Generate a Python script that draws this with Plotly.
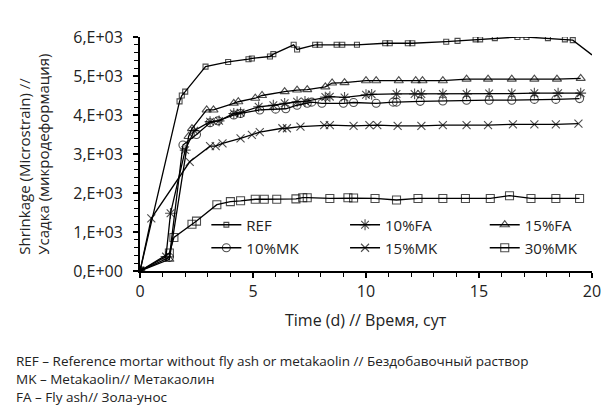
import plotly.graph_objects as go

# ---- data ----
ref_x = [0, 1.75, 1.85, 2.0, 2.9, 3.9, 4.8, 4.95, 5.75, 5.9, 6.8, 6.95, 7.75, 7.95, 8.7, 8.95, 9.6,
         10.85, 11.05, 11.85, 12.05, 13.55, 14.05, 14.85, 15.05, 15.7, 16.7, 17.1, 18.05, 18.8, 19.15, 20.0]
ref_y = [0, 4350, 4500, 4600, 5240, 5360, 5430, 5450, 5500, 5560, 5800, 5680, 5800, 5800, 5800, 5800, 5800,
         5840, 5840, 5840, 5840, 5880, 5900, 5940, 5940, 5970, 6000, 6000, 5970, 5940, 5920, 5540]

fa10_x = [0, 1.15, 1.35, 2.0, 2.4, 3.1, 3.5, 4.15, 4.45, 5.25, 5.9, 6.4, 6.95, 7.3, 8.2, 8.4, 9.05,
          10.0, 10.25, 11.35, 12.15, 12.45, 13.4, 14.45, 15.45, 16.45, 17.45, 18.5, 19.5]
fa10_y = [0, 370, 1480, 3100, 3600, 3830, 3850, 4040, 4060, 4210, 4250, 4300, 4340, 4350, 4460, 4470, 4450,
          4520, 4530, 4540, 4540, 4540, 4540, 4540, 4550, 4550, 4560, 4560, 4560]

fa15_x = [0, 1.3, 2.15, 2.3, 2.95, 3.25, 4.15, 4.35, 5.1, 5.4, 6.4, 6.95, 7.4, 8.2, 8.5, 9.05,
          10.0, 10.45, 11.45, 12.2, 12.5, 13.4, 14.45, 15.4, 16.45, 17.45, 18.45, 19.5]
fa15_y = [0, 300, 3450, 3650, 4130, 4130, 4300, 4340, 4430, 4500, 4600, 4640, 4650, 4720, 4820, 4830,
          4880, 4880, 4880, 4880, 4880, 4880, 4920, 4920, 4920, 4920, 4920, 4940]

mk10_x = [0, 1.3, 1.9, 2.5, 3.1, 3.45, 4.15, 4.45, 5.3, 6.0, 6.45, 6.95, 7.4, 7.6, 8.05, 9.0, 9.45,
          10.45, 11.2, 11.35, 12.4, 13.4, 14.45, 15.45, 16.45, 17.45, 18.4, 19.45]
mk10_y = [0, 350, 3230, 3500, 3800, 3850, 4000, 4040, 4130, 4150, 4160, 4250, 4300, 4330, 4300, 4300, 4320,
          4300, 4330, 4330, 4350, 4360, 4380, 4380, 4380, 4400, 4400, 4420]

mk15_x = [0, 0.5, 2.2, 3.1, 3.35, 3.65, 4.45, 4.95, 5.3, 6.3, 6.5, 7.1, 8.15, 8.4, 9.45, 10.15, 10.5,
          11.4, 12.45, 13.4, 14.45, 15.4, 16.5, 17.45, 18.4, 19.4]
mk15_y = [0, 1350, 2800, 3200, 3200, 3270, 3400, 3490, 3560, 3660, 3660, 3700, 3740, 3740, 3720, 3740, 3740,
          3720, 3720, 3740, 3740, 3740, 3760, 3760, 3760, 3780]

mk30_x = [0, 1.3, 1.5, 2.3, 2.5, 3.4, 4.0, 4.45, 5.1, 5.5, 6.05, 6.9, 7.2, 7.4, 8.4, 9.2, 9.45,
          10.4, 11.35, 12.3, 13.4, 14.4, 15.5, 16.35, 17.3, 18.4, 19.45]
mk30_y = [0, 460, 860, 1200, 1280, 1700, 1780, 1800, 1840, 1840, 1840, 1850, 1880, 1880, 1860, 1880, 1870,
          1860, 1820, 1860, 1860, 1860, 1860, 1930, 1860, 1860, 1860]

y_tickvals = [0, 1000, 2000, 3000, 4000, 5000, 6000]
y_ticktext = ["0,E+00", "1,E+03", "2,E+03", "3,E+03", "4,E+03", "5,E+03", "6,E+03"]
x_tickvals = [0, 5, 10, 15, 20]

FONT = "Open Sans"
TXT = "#222"

# page-pixel helpers (plot area spans x 139.5..592.5, y 37..271 in page pixels)
def px_x(p):
    return (p - 139.5) / 453.0

def px_y(p):
    return (271 - p) / 234.0

fig = go.Figure()

# (name, x, y, symbol, size, legend box left px, legend row centre px)
series = [
    ("REF", ref_x, ref_y, "square-open", 5, 206, 225),
    ("10%FA", fa10_x, fa10_y, "asterisk-open", 9, 345, 225),
    ("15%FA", fa15_x, fa15_y, "triangle-up-open", 8, 485, 225),
    ("10%MK", mk10_x, mk10_y, "circle-open", 8, 206, 248),
    ("15%MK", mk15_x, mk15_y, "x-thin-open", 8, 345, 248),
    ("30%MK", mk30_x, mk30_y, "square-open", 8, 485, 248),
]
legend_layouts = {}
for i, (name, xs, ys, sym, sz, lx, ly) in enumerate(series):
    sizes = [sz] * len(xs)
    if name == "REF":
        sizes[-1] = 0
    lg = "legend" if i == 0 else f"legend{i + 1}"
    fig.add_trace(go.Scatter(
        x=xs, y=ys, name=name, mode="lines+markers",
        line=dict(color="black", width=1.3),
        marker=dict(symbol=sym, size=sizes, color="black", line=dict(color="black", width=1.1)),
        legend=lg,
    ))
    legend_layouts[lg] = dict(x=px_x(lx), y=px_y(ly), xanchor="left", yanchor="middle",
                              bgcolor="rgba(0,0,0,0)", borderwidth=0, itemwidth=30,
                              font=dict(family=FONT, size=15, color=TXT))

tickfont = dict(family=FONT, size=16, color=TXT)
fig.update_layout(
    width=603, height=408,
    margin=dict(l=139.5, r=10.5, t=37, b=137, autoexpand=False),
    paper_bgcolor="white", plot_bgcolor="white",
    font=dict(family=FONT, size=14, color=TXT),
    xaxis=dict(range=[0, 20], tickvals=x_tickvals, showgrid=False, zeroline=False, automargin=False,
               showline=True, linecolor="black", linewidth=1.8,
               ticks="outside", ticklen=5, tickwidth=1.5, tickcolor="black",
               minor=dict(dtick=1, ticks="outside", ticklen=4, tickwidth=1.2, tickcolor="black"),
               tickfont=tickfont, title=None),
    yaxis=dict(range=[0, 6000], tickvals=y_tickvals, ticktext=y_ticktext, showgrid=False, zeroline=False,
               automargin=False, ticklabelstandoff=7,
               showline=True, linecolor="black", linewidth=1.8,
               ticks="outside", ticklen=5, tickwidth=1.5, tickcolor="black",
               minor=dict(dtick=200, ticks="outside", ticklen=4, tickwidth=1.2, tickcolor="black"),
               tickfont=tickfont, title=None),
    xaxis2=dict(range=[0, 20], overlaying="x", anchor="y", side="bottom", showgrid=False, zeroline=False,
                automargin=False, tickvals=x_tickvals, showticklabels=False, showline=False,
                ticks="inside", ticklen=5, tickwidth=1.5, tickcolor="black",
                minor=dict(dtick=1, ticks="inside", ticklen=4, tickwidth=1.2, tickcolor="black")),
    yaxis2=dict(range=[0, 6000], overlaying="y", anchor="x", side="left", showgrid=False, zeroline=False,
                automargin=False, tickvals=y_tickvals, showticklabels=False, showline=False,
                ticks="inside", ticklen=5, tickwidth=1.5, tickcolor="black",
                minor=dict(dtick=200, ticks="inside", ticklen=4, tickwidth=1.2, tickcolor="black")),
    showlegend=True,
    **legend_layouts,
)

annos = [
    dict(text="Time (d) // Время, сут", x=px_x(366), y=px_y(320), xanchor="center", yanchor="middle", size=16),
    dict(text="Shrinkage (Microstrain) //<br>Усадка (микродеформация)", x=px_x(33), y=0.5, textangle=-90,
         xanchor="center", yanchor="middle", size=15),
    dict(text="REF – Reference mortar without fly ash or metakaolin // Бездобавочный раствор",
         x=px_x(13), y=px_y(361), xanchor="left", yanchor="middle", size=13.5),
    dict(text="MK – Metakaolin// Метакаолин",
         x=px_x(13), y=px_y(379), xanchor="left", yanchor="middle", size=13.5),
    dict(text="FA – Fly ash// Зола-унос",
         x=px_x(13), y=px_y(397), xanchor="left", yanchor="middle", size=13.5),
]
for a in annos:
    sz = a.pop("size")
    fig.add_annotation(xref="paper", yref="paper", showarrow=False, align="left",
                       font=dict(family=FONT, size=sz, color=TXT), **a)

fig.write_html("out.html",
               config={"displayModeBar": False},
               post_script="document.body.style.margin='0';document.body.style.overflow='hidden';")
